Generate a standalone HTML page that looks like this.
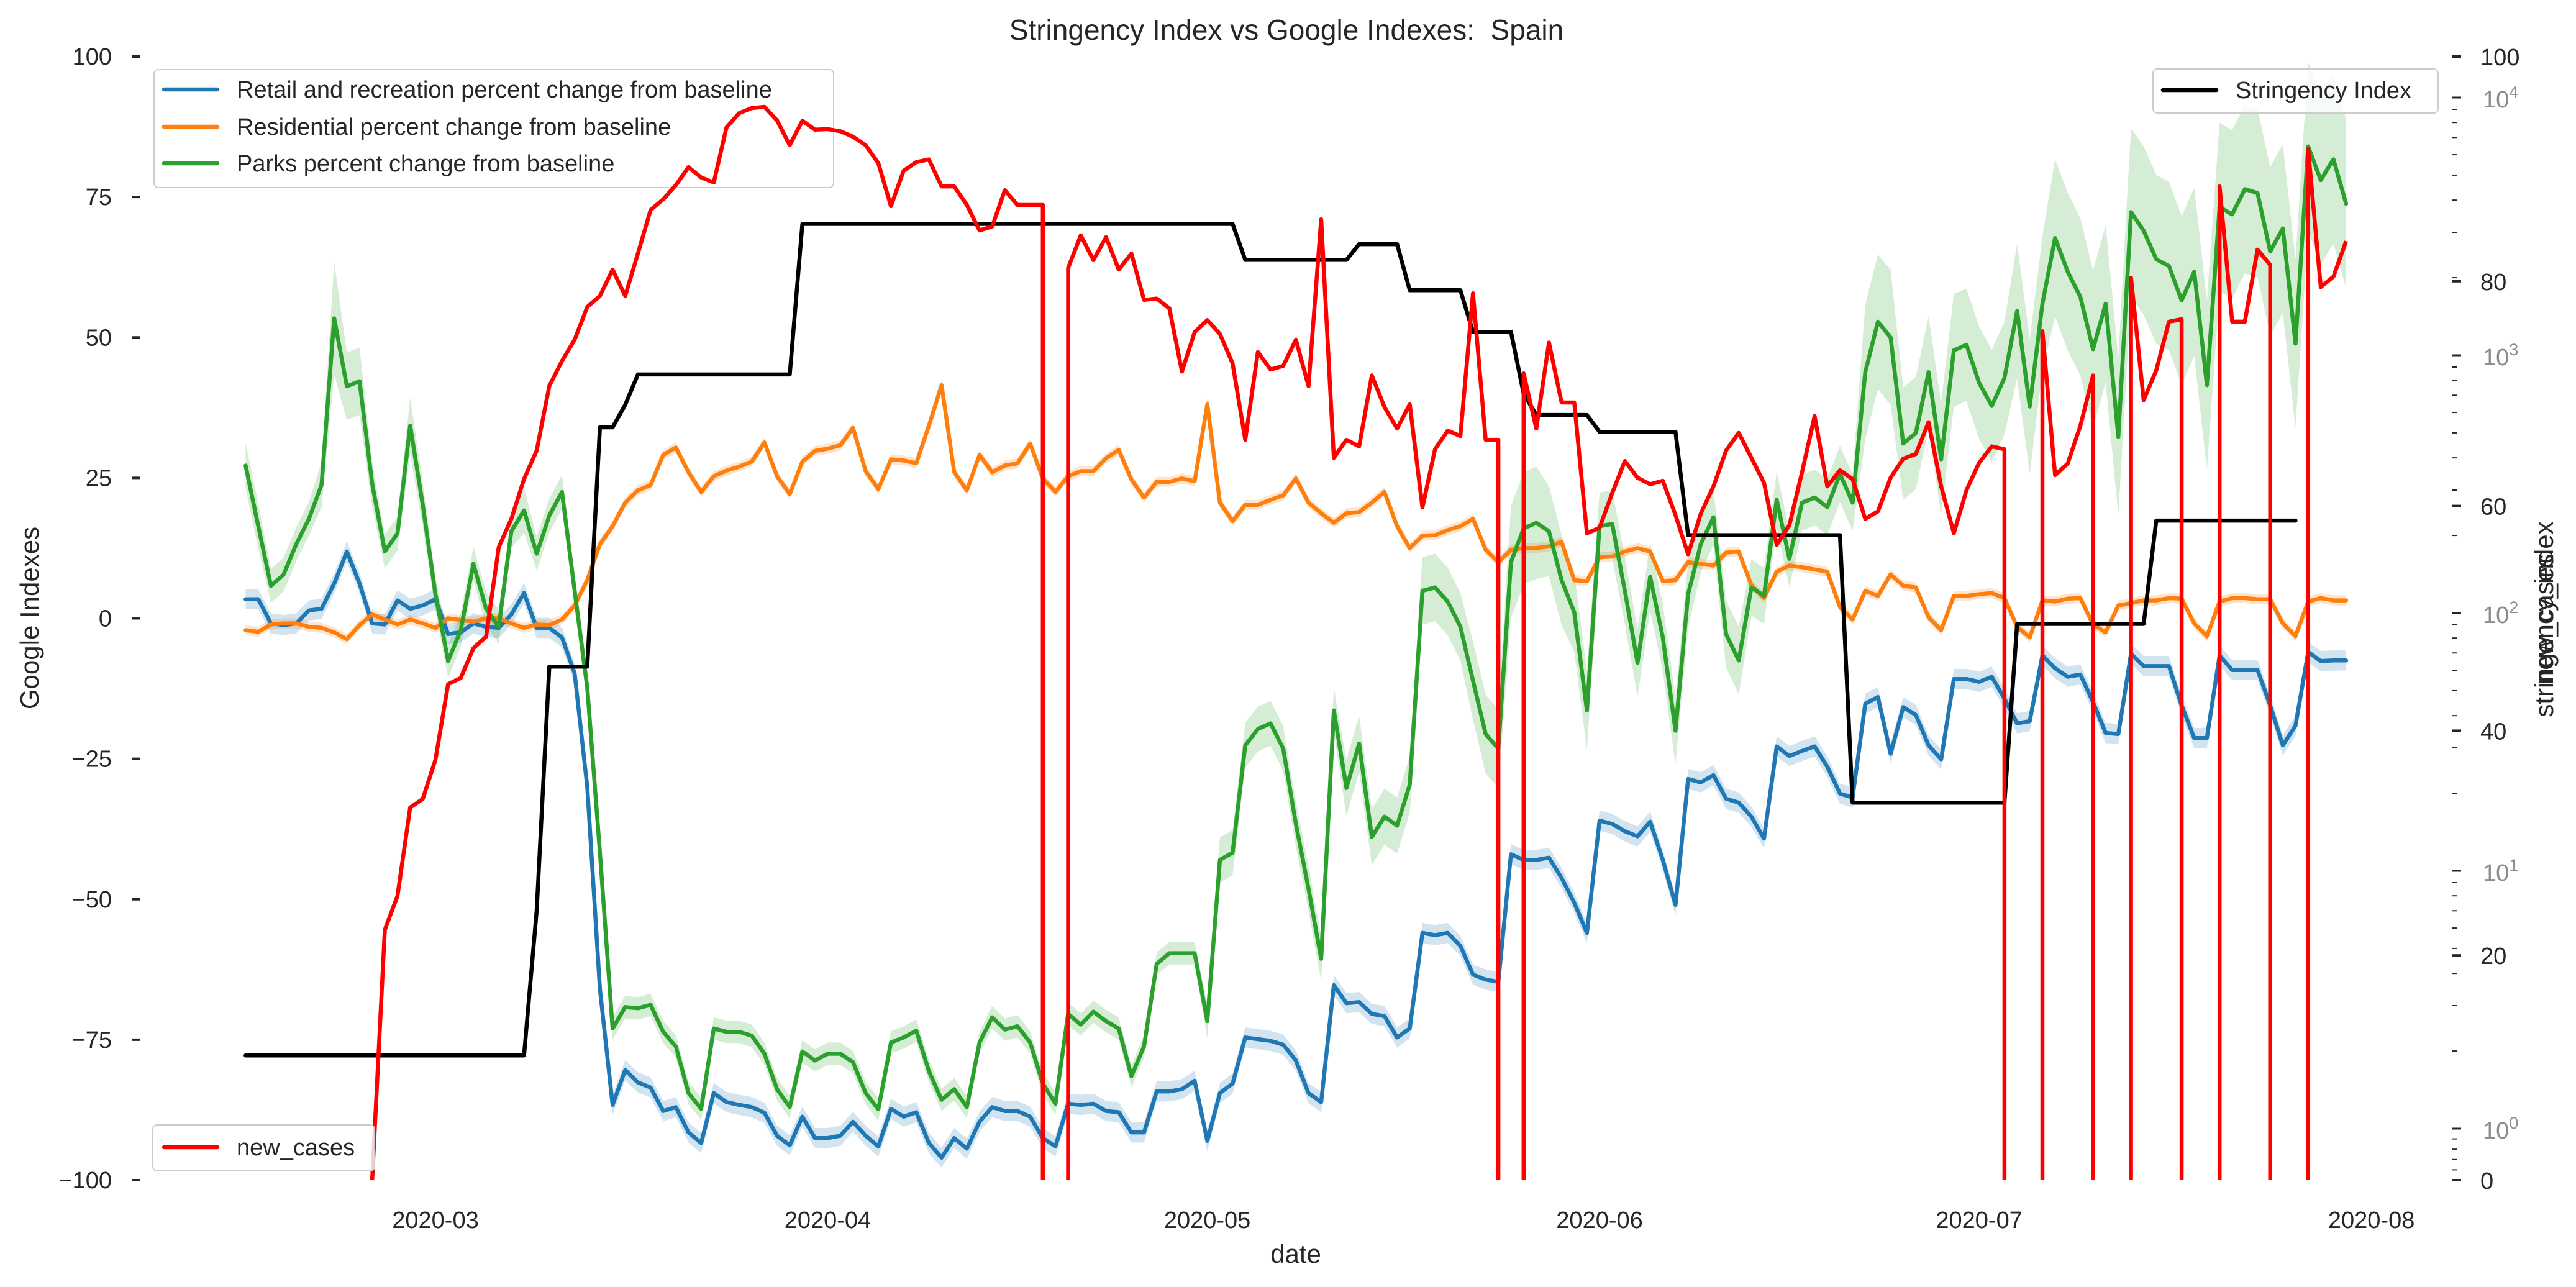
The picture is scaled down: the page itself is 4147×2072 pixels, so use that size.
<!DOCTYPE html>
<html><head><meta charset="utf-8"><style>
html,body{margin:0;padding:0;background:#fff;overflow:hidden;width:4147px;height:2072px;}
svg{display:block;font-family:"Liberation Sans",Arial,sans-serif;}
</style></head><body>
<svg id="chart" width="4147" height="2072" viewBox="0 0 4147 2072" xmlns="http://www.w3.org/2000/svg">
<defs><clipPath id="plotclip"><rect x="230" y="88" width="3712" height="1812"/></clipPath></defs>
<rect x="0" y="0" width="4147" height="2072" fill="#fff"/>
<text x="2071" y="64" font-size="46" text-anchor="middle" fill="#262626" xml:space="preserve">Stringency Index vs Google Indexes:  Spain</text>
<text x="2086" y="2033" font-size="42" text-anchor="middle" fill="#262626">date</text>
<text transform="translate(62,995) rotate(-90)" font-size="42" text-anchor="middle" fill="#262626">Google Indexes</text>
<text transform="translate(4110,997) rotate(-90)" font-size="42" text-anchor="middle" fill="#262626">stringency_index</text>
<text transform="translate(4110,997) rotate(-90)" font-size="42" text-anchor="middle" fill="#262626">new_cases</text>
<g id="axes"></g>
<g id="legendsBelow"></g>
<g id="plot" clip-path="url(#plotclip)"></g>
<g id="legends"></g>
</svg>
<script>
const xTickLabels = ["2020-03","2020-04","2020-05","2020-06","2020-07","2020-08"];
const xTickDays = [0,31,61,92,122,153];
const leftTicks = [-100,-75,-50,-25,0,25,50,75,100];
const stringencyTicks = [0,20,40,60,80,100];
const logTickExps = [0,1,2,3,4];
const googleStartDay = -15;
const retail = [3.4,3.4,-0.9,-1.2,-0.9,1.4,1.7,6.2,11.9,6.2,-0.9,-1.1,3.2,1.7,2.3,3.4,-2.8,-2.5,-0.9,-1.5,-1.7,0.7,4.5,-1.7,-1.7,-3.4,-9.8,-30,-66,-86.6,-80.4,-82.6,-83.5,-87.7,-87,-91.5,-93.4,-84.5,-86.1,-86.6,-87,-88,-92.1,-93.8,
-88.7,-92.5,-92.5,-92.1,-89.6,-92.1,-94,-87.3,-88.7,-87.9,-93.4,-96,-92.5,-94.4,-89.6,-87,-87.7,-87.7,-88.7,-92.5,-94,-86.4,-86.6,-86.4,-87.7,-87.9,-91.5,-91.5,-84.2,-84.2,-83.8,-82.3,-93,-84.5,-82.8,-74.6,-74.9,-75.2,-75.9,-78.7,-84.5,-86.1,-65.3,-68.5,
-68.3,-70.4,-70.8,-74.6,-73,-56,-56.4,-56,-58.3,-63.4,-64.3,-64.7,-42,-43,-43,-42.6,-46.2,-50.6,-56,-36,-36.6,-37.9,-38.8,-36.2,-43,-51,-28.6,-29.2,-27.9,-32.1,-32.8,-35.3,-39.2,-22.8,-24.5,-23.6,-22.8,-26.4,-31.2,-31.9,-15.2,-14,-24.1,-15.8,
-17.2,-22.6,-25.1,-10.8,-10.8,-11.3,-10.4,-14.3,-18.7,-18.3,-6.6,-8.9,-10.4,-10,-14.9,-20.4,-20.6,-6.3,-8.5,-8.5,-8.5,-15.5,-21.3,-21.3,-6.6,-9.2,-9.2,-9.2,-15.5,-22.6,-19.1,-6,-7.6,-7.5,-7.5];
const residential = [-2.1,-2.4,-1.1,-0.9,-0.9,-1.5,-1.7,-2.5,-3.7,-1.2,0.7,-0.2,-1.1,-0.2,-0.9,-1.7,0,-0.3,-0.6,0,0,-0.9,-1.7,-1.1,-1.2,-0.2,2.3,6.8,13.2,16.4,20.6,22.8,23.7,29.1,30.4,26,22.5,25.3,26.3,27,27.9,31.3,25.3,22.1,
27.9,29.8,30.2,30.8,33.9,26.2,23,28.3,28.1,27.6,34.3,41.5,26,22.8,29.1,26,27.2,27.6,31.1,24.9,22.5,25.3,26.2,26.2,28.5,30,24.7,21.5,24.3,24.3,24.9,24.4,38.1,20.6,17.3,20.2,20.2,21.1,21.9,24.9,20.6,18.7,17,18.7,
18.9,20.6,22.5,16.4,12.5,14.7,14.8,15.7,16.4,17.7,12.2,10,12.2,12.5,12.5,12.8,13.6,6.8,6.6,10.9,11,11.9,12.5,11.9,6.6,6.8,10,9.7,9.4,11.7,11.9,5.9,3.6,8.3,9.4,9.1,8.7,8.3,2,-0.2,4.9,4,7.8,5.8,
5.5,0.2,-2.1,4,4,4.3,4.5,3.6,-1.5,-3.4,3.2,3,3.5,3.6,-1.1,-2.5,2.3,2.7,3.2,3.2,3.6,3.5,-0.9,-3.2,3,3.6,3.6,3.4,3.4,-0.9,-3.2,3,3.6,3.2,3.2];
const parks = [27.2,16.4,5.8,7.8,13.2,17.7,23.8,53.4,41.3,42.2,24,11.9,15.1,34.3,20.2,4.3,-7.6,-2.1,9.7,1.7,-1.5,15.5,19.2,11.5,18.3,22.5,4.9,-12.3,-41.7,-73,-69.2,-69.4,-68.8,-73.6,-76.2,-84.5,-87.3,-73,-73.6,-73.6,-74.3,-77.5,-83.8,-87,
-77.1,-78.7,-77.5,-77.5,-79,-84.5,-87.4,-75.5,-74.6,-73.4,-80.6,-85.7,-83.8,-87,-75.5,-71,-73.2,-72.6,-75.5,-82.8,-86.4,-70.4,-72.3,-70,-71.7,-73,-81.5,-76.2,-61.5,-59.6,-59.6,-59.6,-71.7,-43,-41.7,-22.6,-19.7,-18.7,-23.2,-36.6,-48.1,-60.6,-16.4,-30.2,
-22.3,-38.9,-35.3,-36.9,-29.6,4.9,5.5,3,-1.5,-11.1,-20.6,-23.2,10,16,17,15.5,6.8,1.1,-16.4,16.4,16.8,4.9,-7.9,7.4,-3.4,-20,4.3,13.2,18,-2.8,-7.5,5.5,4,21.1,10.6,20.6,21.5,19.8,25.7,20.6,43.8,52.8,50,31.1,
33,43.8,28.3,47.7,48.7,41.9,37.8,42.8,54.7,37.7,56,67.7,61.7,57.2,47.9,56,32.3,72.3,69,63.9,62.7,56.6,61.7,41.5,73.2,71.9,76.4,75.7,65.3,69.4,48.9,84,78,81.7,73.8];
const parksCI = [4,4,3,3,3,3,4,10,6,6,4,3,3,5,4,3,3,3,3,3,3,3,4,3,3,3,3,3,3,2,2,2,2,2,2,2,2,2,2,2,2,2,2,2,
2,2,2,2,2,2,2,2,2,2,2,2,2,2,2,2,2,2,2,2,2,2,2,2,2,2,2,2,2,2,2,2,3,4,4,4,4,4,4,4,4,4,4,5,
5,5,5,5,5,6,6,6,6,7,7,7,10,10,10,8,8,7,7,6,6,6,6,6,6,6,6,5,5,6,6,5,5,5,5,5,5,5,5,5,12,12,12,10,
10,10,10,10,10,10,10,10,12,12,12,14,14,14,14,14,14,15,15,15,15,15,15,15,15,15,15,15,15,15,15,15,15,15,15];
const retailCI = 1.8;
const residentialCI = 0.9;
const stringencyStartDay = -15;
const stringency = [11.1,11.1,11.1,11.1,11.1,11.1,11.1,11.1,11.1,11.1,11.1,11.1,11.1,11.1,11.1,11.1,11.1,11.1,11.1,11.1,11.1,11.1,11.1,
24,45.7,45.7,45.7,45.7,67,67,69,
71.7,71.7,71.7,71.7,71.7,71.7,71.7,71.7,71.7,71.7,71.7,71.7,71.7,
85.1,85.1,85.1,85.1,85.1,85.1,85.1,85.1,85.1,85.1,85.1,85.1,85.1,85.1,85.1,85.1,85.1,85.1,85.1,85.1,85.1,85.1,85.1,85.1,85.1,85.1,85.1,85.1,85.1,85.1,85.1,85.1,85.1,85.1,85.1,
81.9,81.9,81.9,81.9,81.9,81.9,81.9,81.9,81.9,
83.3,83.3,83.3,83.3,79.2,79.2,79.2,79.2,79.2,75.5,75.5,75.5,75.5,70,68.1,68.1,68.1,68.1,68.1,
66.6,66.6,66.6,66.6,66.6,66.6,66.6,
57.4,57.4,57.4,57.4,57.4,57.4,57.4,57.4,57.4,57.4,57.4,57.4,57.4,
33.6,33.6,33.6,33.6,33.6,33.6,33.6,33.6,33.6,33.6,33.6,33.6,33.6,
49.5,49.5,49.5,49.5,49.5,49.5,49.5,49.5,49.5,49.5,49.5,
58.7,58.7,58.7,58.7,58.7,58.7,58.7,58.7,58.7,58.7,58.7,58.7];
const casesStartDay = -5;
const newCases = [0,
5.9,8,17.6,19,27,53,56,73,81,180,232,331,427,760,950,1150,1540,1700,2150,1700,2480,3660,4030,4570,5370,4900,4680,7650,8700,9100,9200,8150,6530,
8130,7500,7540,7400,7050,6530,5560,3790,5200,5620,5750,4520,4520,3830,3050,3160,4370,3830,3830,3830,-5000,2180,2920,2340,2870,2150,2480,1640,1660,1520,865,1230,1370,1210,930,470,1030,880,910,1150,760,3370,400,470,
443,835,630,520,645,257,432,510,486,1740,470,470,-5000,850,520,1120,656,656,204,214,292,389,335,316,326,240,169,243,310,427,500,400,320,184,219,352,581,310,358,331,232,248,335,397,
414,550,310,204,300,383,443,432,-5000,-5000,1240,343,380,533,835,-5000,-5000,2000,670,875,1350,1380,-5000,-5000,4520,1350,1350,2570,2240,-5000,-5000,6300,1840,2020,2770];

const NS="http://www.w3.org/2000/svg";
const Y_BOTTOM=1902;
function xD(d){return 701+20.37*d;}
function yL(v){return 1900-(v+100)*9.045;}
function yS(s){return 1900-s*18.09;}
function yC(v){ if(v>=1) return 1817-415*Math.log10(v); if(v>=0) return 1900-83*v; return Y_BOTTOM; }
function mk(tag,attrs,parent){const e=document.createElementNS(NS,tag);for(const k in attrs)e.setAttribute(k,attrs[k]);parent.appendChild(e);return e;}
const plot=document.getElementById('plot'), axes=document.getElementById('axes'), legends=document.getElementById('legends'), legendsBelow=document.getElementById('legendsBelow');

function linePath(arr,start,yf){return arr.map((v,i)=>(i?'L':'M')+xD(start+i).toFixed(1)+','+yf(v).toFixed(1)).join('');}
// off-scale (negative) values drop vertically out of the axes
function casesPath(arr,start){
  let d='',prevNeg=false;
  arr.forEach((v,i)=>{
    const x=xD(start+i).toFixed(1);
    if(v<0){ if(i>0&&!prevNeg) d+='L'+x0(i-1)+','+Y_BOTTOM; prevNeg=true; return; }
    const y=yC(v).toFixed(1);
    if(i===0) d+='M'+x+','+y;
    else if(prevNeg) d+='M'+x+','+Y_BOTTOM+'L'+x+','+y;
    else d+='L'+x+','+y;
    prevNeg=false;
  });
  function x0(j){return xD(start+j).toFixed(1);}
  return d;
}
function bandPath(arr,start,ci){
  let up=arr.map((v,i)=>(i?'L':'M')+xD(start+i).toFixed(1)+','+yL(v+(Array.isArray(ci)?ci[i]:ci)).toFixed(1)).join('');
  let dn='';for(let i=arr.length-1;i>=0;i--)dn+='L'+xD(start+i).toFixed(1)+','+yL(arr[i]-(Array.isArray(ci)?ci[i]:ci)).toFixed(1);
  return up+dn+'Z';
}
let b;
b=mk('path',{d:bandPath(retail,googleStartDay,retailCI),fill:'#1f77b4','fill-opacity':0.2},plot);


b=mk('path',{d:bandPath(residential,googleStartDay,residentialCI),fill:'#ff7f0e','fill-opacity':0.2},plot);


b=mk('path',{d:bandPath(parks,googleStartDay,parksCI),fill:'#2ca02c','fill-opacity':0.2},plot);


let l;
l=mk('path',{d:linePath(retail,googleStartDay,yL),fill:'none',stroke:'#1f77b4','stroke-width':6.5,'stroke-linejoin':'round','stroke-linecap':'round'},plot);


l=mk('path',{d:linePath(residential,googleStartDay,yL),fill:'none',stroke:'#ff7f0e','stroke-width':6.5,'stroke-linejoin':'round','stroke-linecap':'round'},plot);


l=mk('path',{d:linePath(parks,googleStartDay,yL),fill:'none',stroke:'#2ca02c','stroke-width':6.5,'stroke-linejoin':'round','stroke-linecap':'round'},plot);


l=mk('path',{d:linePath(stringency,stringencyStartDay,yS),fill:'none',stroke:'#000','stroke-width':6.5,'stroke-linejoin':'round','stroke-linecap':'round'},plot);


l=mk('path',{d:casesPath(newCases,casesStartDay),fill:'none',stroke:'#ff0000','stroke-width':6.5,'stroke-linejoin':'round'},plot);



xTickDays.forEach((d,i)=>{
  const t=mk('text',{x:xD(d),y:1977,'font-size':38,'text-anchor':'middle',fill:'#262626'},axes);
  t.textContent=xTickLabels[i];
  
  
});
leftTicks.forEach(v=>{
  const y=yL(v);
  const tk=mk('line',{x1:212,x2:225,y1:y,y2:y,stroke:'#262626','stroke-width':4},axes);
  
  
  const t=mk('text',{x:180,y:y+13,'font-size':38,'text-anchor':'end',fill:'#262626'},axes);
  t.textContent=String(v).replace('-','\u2212');
  
  
});
stringencyTicks.forEach(s=>{
  const y=yS(s);
  const tk=mk('line',{x1:3948,x2:3962,y1:y,y2:y,stroke:'#262626','stroke-width':4},axes);
  
  
  const t=mk('text',{x:3993,y:y+14,'font-size':38,fill:'#262626'},axes);
  t.textContent=String(s);
  
  
});
logTickExps.forEach(k=>{
  const y=yC(Math.pow(10,k));
  const tk=mk('line',{x1:3948,x2:3962,y1:y,y2:y,stroke:'#262626','stroke-width':3},axes);
  
  
  const t=mk('text',{x:3997,y:y+16,'font-size':38,fill:'#8c8c8c'},axes);
  
  
  t.appendChild(document.createTextNode('10'));
  const sp=mk('tspan',{dy:-16,'font-size':27},t);
  sp.textContent=String(k);
  if(k<4){for(let m=2;m<=9;m++){const ym=yC(m*Math.pow(10,k));
    const mt=mk('line',{x1:3948,x2:3955,y1:ym,y2:ym,stroke:'#262626','stroke-width':2},axes);
    
    }}
});
[0.2,0.4,0.6,0.8].forEach(v=>{const ym=yC(v);
  const mt=mk('line',{x1:3948,x2:3955,y1:ym,y2:ym,stroke:'#262626','stroke-width':2},axes);
  
  });

function legendBox(g,x,y,w,h,name){
  const r=mk('rect',{x:x,y:y,width:w,height:h,rx:7,fill:'#fff','fill-opacity':0.8,stroke:'#cccccc','stroke-width':2},g);
  
  
}
function legendEntry(g,x1,x2,y,color,label,name){
  const ln=mk('line',{x1:x1,x2:x2,y1:y,y2:y,stroke:color,'stroke-width':6.5,'stroke-linecap':'round'},g);
  
  
  const t=mk('text',{x:x2+31,y:y+13,'font-size':38,fill:'#262626'},g);
  t.textContent=label;
  
  
}
legendBox(legendsBelow,248,112,1094,190,'google-legend');
legendEntry(legendsBelow,264,350,144,'#1f77b4','Retail and recreation percent change from baseline','legend-entry-retail');
legendEntry(legendsBelow,264,350,204,'#ff7f0e','Residential percent change from baseline','legend-entry-residential');
legendEntry(legendsBelow,264,350,263,'#2ca02c','Parks percent change from baseline','legend-entry-parks');
legendBox(legends,3466,111,459,71,'stringency-legend');
legendEntry(legends,3482,3568,145,'#000','Stringency Index','legend-entry-stringency');
legendBox(legends,246,1811,357,74,'new-cases-legend');
legendEntry(legends,264,350,1847,'#ff0000','new_cases','legend-entry-new-cases');
</script>
</body></html>
